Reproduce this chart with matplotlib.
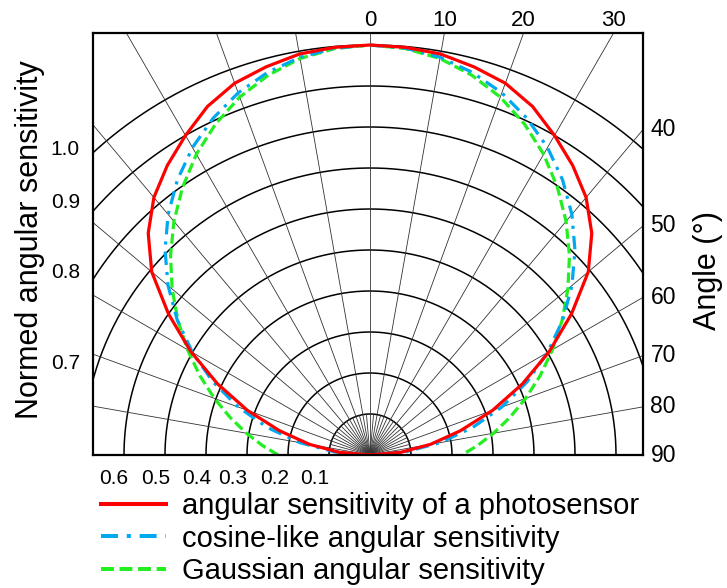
import matplotlib
matplotlib.use("Agg")
import matplotlib.pyplot as plt
from matplotlib.lines import Line2D
import numpy as np

plt.rcParams["font.family"] = ["Liberation Sans", "DejaVu Sans"]

# angle from the normal (deg), one half, mirrored below
angles_half = [0, 5, 10, 15, 20, 25, 30, 35, 40, 45, 50, 55, 60, 65, 70, 75, 80, 85, 90]

photosensor_half = [1.00, 0.998, 0.993, 0.98, 0.965, 0.938, 0.90, 0.862, 0.82, 0.765,
                    0.695, 0.60, 0.505, 0.41, 0.318, 0.228, 0.15, 0.075, 0.00]
cosine_half = [1.00, 0.996, 0.985, 0.966, 0.94, 0.906, 0.866, 0.819, 0.766, 0.707,
               0.643, 0.574, 0.50, 0.423, 0.342, 0.259, 0.174, 0.087, 0.00]
gauss_half = [1.00, 0.995, 0.982, 0.959, 0.929, 0.891, 0.847, 0.797, 0.744, 0.688,
              0.63, 0.572, 0.514, 0.458, 0.404, 0.353, 0.306, 0.263, 0.224]

labels = ["angular sensitivity of a photosensor",
          "cosine-like angular sensitivity",
          "Gaussian angular sensitivity"]

top_ticks = [0, 10, 20, 30]
right_ticks = [40, 50, 60, 70, 80, 90]
left_ticks = ["1.0", "0.9", "0.8", "0.7"]
left_tick_y = [0.744, 0.615, 0.444, 0.222]
bottom_ticks = ["0.6", "0.5", "0.4", "0.3", "0.2", "0.1"]
bottom_tick_x = [-0.624, -0.523, -0.423, -0.334, -0.232, -0.134]

RED = "#ff0000"
BLUE = "#00a8f0"
GREEN = "#22ee22"
BLUE_DASH = (4.2, 2.2, 1.0, 2.2)
GREEN_DASH = (3.2, 1.4)


def mirror(a_half, r_half):
    a = np.array([-v for v in a_half[::-1]] + a_half[1:], dtype=float)
    r = np.array(r_half[::-1] + r_half[1:], dtype=float)
    return a, r


def to_xy(a_deg, r):
    t = np.radians(a_deg)
    return r * np.sin(t), r * np.cos(t)


fig = plt.figure(figsize=(7.27, 5.88), dpi=100)
ax = fig.add_axes([93 / 727, 133 / 588, 550 / 727, 422 / 588])
x0, x1 = -277 / 410, 273 / 410
y1 = 422 / 410
ax.set_xlim(x0, x1)
ax.set_ylim(0, y1)
ax.set_xticks([])
ax.set_yticks([])
for s in ax.spines.values():
    s.set_linewidth(1.6)
    s.set_zorder(10)

# grid: circles and rays
phi = np.linspace(0, np.pi, 400)
for rr in np.arange(1, 11) / 10:
    ax.plot(rr * np.cos(phi), rr * np.sin(phi), color="black", lw=1.1, zorder=1)
for a in range(-90, 91, 5):
    t = np.radians(a)
    length = 2.0 if a % 10 == 0 else 0.1
    ax.plot([0, length * np.sin(t)], [0, length * np.cos(t)],
            color="#333333", lw=0.6, zorder=1)

# curves
a, r = mirror(angles_half, photosensor_half)
x, y = to_xy(a, r)
ax.plot(x, y, color=RED, lw=2.3, zorder=4, solid_joinstyle="round")

a, r = mirror(angles_half, cosine_half)
x, y = to_xy(a, r)
ax.plot(x, y, color=BLUE, lw=2.3, dashes=BLUE_DASH, zorder=3)

a, r = mirror(angles_half, gauss_half)
x, y = to_xy(a, r)
ax.plot(x, y, color=GREEN, lw=2.3, dashes=GREEN_DASH, zorder=2)

# tick labels on the frame
for t in top_ticks:
    ax.text(np.tan(np.radians(t)) * y1, y1 + 0.03, str(t), ha="center",
            va="center", fontsize=16, clip_on=False)
for t in right_ticks:
    yy = x1 / np.tan(np.radians(t))
    ax.text(x1 + 0.018, yy, str(t), ha="left", va="center", fontsize=16.5,
            clip_on=False)
for lab, yy in zip(left_ticks, left_tick_y):
    ax.text(x0 - 0.032, yy, lab, ha="right", va="center", fontsize=15,
            clip_on=False)
for lab, xx in zip(bottom_ticks, bottom_tick_x):
    ax.text(xx, -0.0585, lab, ha="center", va="center", fontsize=15,
            clip_on=False)

fig.text(30 / 727, 1 - 240 / 588, "Normed angular sensitivity", rotation=90,
         ha="center", va="center", fontsize=22)
fig.text(708 / 727, 1 - 271 / 588, "Angle (°)", rotation=90,
         ha="center", va="center", fontsize=22)

handles = [
    Line2D([], [], color=RED, lw=2.9),
    Line2D([], [], color=BLUE, lw=2.9, dashes=BLUE_DASH),
    Line2D([], [], color=GREEN, lw=2.9, dashes=GREEN_DASH),
]
fig.legend(handles, labels, loc="upper left",
           bbox_to_anchor=(101 / 727, 1 - 492 / 588),
           frameon=False, fontsize=21, handlelength=2.23, handletextpad=0.55,
           labelspacing=0.16, borderpad=0, borderaxespad=0)

fig.savefig("out.png", dpi=100)
